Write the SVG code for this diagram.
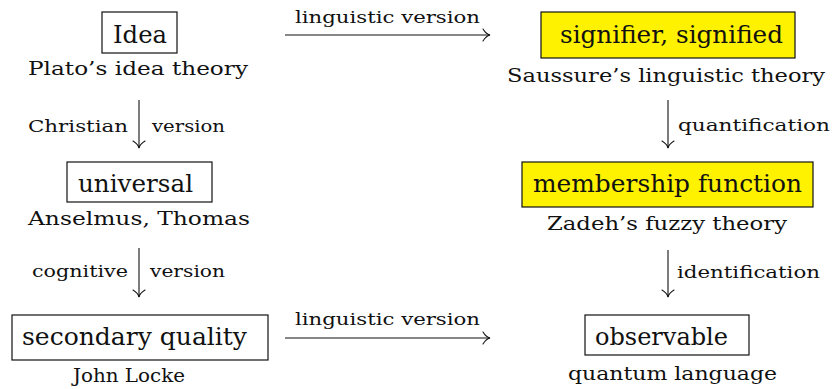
<svg xmlns="http://www.w3.org/2000/svg" width="835" height="389" viewBox="0 0 835 389">
<style>
text{font-family:"DejaVu Serif","Liberation Serif",serif;fill:#111}
.b{font-size:24px}
.s{font-size:19px}
.e{font-size:16px}
.box{fill:#fff;stroke:#111;stroke-width:1.2}
.y{fill:#fff200}
.c{stroke:#111;stroke-width:1.1;fill:none}
.h{stroke:#111;stroke-width:1.1;fill:none;stroke-linecap:round}
</style>
<rect width="835" height="389" fill="#fff"/>
<g id="idea">
<rect class="box" x="102" y="12" width="75" height="41"/>
<text class="b" x="113" y="43" textLength="54" lengthAdjust="spacingAndGlyphs">Idea</text>
<text class="s" x="28" y="75" textLength="220" lengthAdjust="spacingAndGlyphs">Plato’s idea theory</text>
</g>
<g id="universal">
<rect class="box" x="67" y="162" width="145" height="40"/>
<text class="b" x="78" y="192" textLength="115" lengthAdjust="spacingAndGlyphs">universal</text>
<text class="s" x="28" y="225" textLength="222" lengthAdjust="spacingAndGlyphs">Anselmus, Thomas</text>
</g>
<g id="secondary">
<rect class="box" x="12" y="315" width="256" height="45"/>
<text class="b" x="22" y="345" textLength="225" lengthAdjust="spacingAndGlyphs">secondary quality</text>
<text class="s" x="73" y="382" textLength="112" lengthAdjust="spacingAndGlyphs">John Locke</text>
</g>
<g id="signifier">
<rect class="box y" x="541" y="12" width="254" height="46"/>
<text class="b" x="560" y="43" textLength="223" lengthAdjust="spacingAndGlyphs">signifier, signified</text>
<text class="s" x="507" y="82" textLength="318" lengthAdjust="spacingAndGlyphs">Saussure’s linguistic theory</text>
</g>
<g id="membership">
<rect class="box y" x="522" y="162" width="291" height="45"/>
<text class="b" x="533" y="192" textLength="269" lengthAdjust="spacingAndGlyphs">membership function</text>
<text class="s" x="547" y="230" textLength="240" lengthAdjust="spacingAndGlyphs">Zadeh’s fuzzy theory</text>
</g>
<g id="observable">
<rect class="box" x="585" y="315" width="164" height="40"/>
<text class="b" x="595" y="345" textLength="133" lengthAdjust="spacingAndGlyphs">observable</text>
<text class="s" x="568" y="380" textLength="209" lengthAdjust="spacingAndGlyphs">quantum language</text>
</g>
<g id="connectors">
<line class="c" x1="285" y1="35" x2="490" y2="35"/>
<path class="h" d="M483,29 Q486,34 490,35 Q486,36 483,41"/>
<text class="e" x="295" y="23" textLength="185" lengthAdjust="spacingAndGlyphs">linguistic version</text>
<line class="c" x1="285" y1="338" x2="490" y2="338"/>
<path class="h" d="M483,332 Q486,337 490,338 Q486,339 483,344"/>
<text class="e" x="295" y="325" textLength="185" lengthAdjust="spacingAndGlyphs">linguistic version</text>
<line class="c" x1="139" y1="100" x2="139" y2="148"/>
<path class="h" d="M133,141 Q138,144 139,148 Q140,144 145,141"/>
<text class="e" x="28" y="132" textLength="100" lengthAdjust="spacingAndGlyphs">Christian</text>
<text class="e" x="152" y="132" textLength="73" lengthAdjust="spacingAndGlyphs">version</text>
<line class="c" x1="139" y1="248" x2="139" y2="297"/>
<path class="h" d="M133,290 Q138,293 139,297 Q140,293 145,290"/>
<text class="e" x="32" y="277" textLength="96" lengthAdjust="spacingAndGlyphs">cognitive</text>
<text class="e" x="150" y="277" textLength="75" lengthAdjust="spacingAndGlyphs">version</text>
<line class="c" x1="668" y1="100" x2="668" y2="148"/>
<path class="h" d="M662,141 Q667,144 668,148 Q669,144 674,141"/>
<text class="e" x="678" y="131" textLength="152" lengthAdjust="spacingAndGlyphs">quantification</text>
<line class="c" x1="668" y1="250" x2="668" y2="297"/>
<path class="h" d="M662,290 Q667,293 668,297 Q669,293 674,290"/>
<text class="e" x="677" y="278" textLength="143" lengthAdjust="spacingAndGlyphs">identification</text>
</g>
</svg>
